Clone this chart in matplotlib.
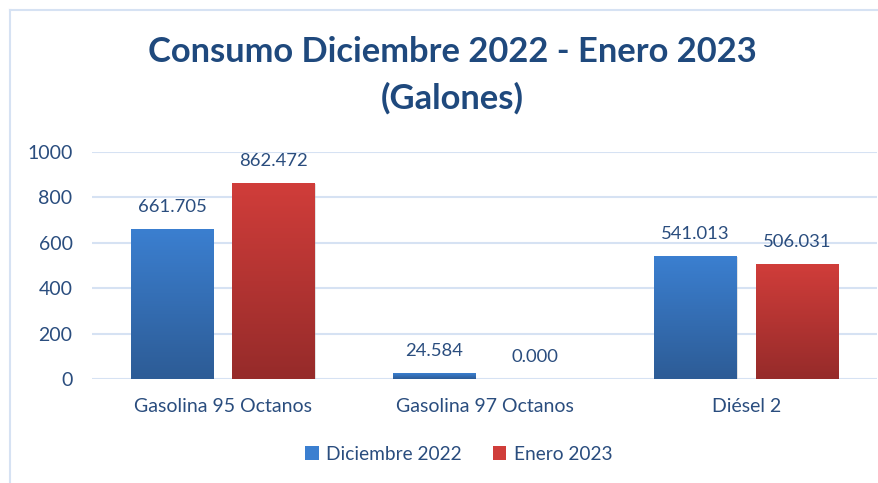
import numpy as np
import matplotlib.pyplot as plt
from matplotlib.patches import Rectangle, Patch
from matplotlib.colors import LinearSegmentedColormap

categorias = ['Gasolina 95 Octanos', 'Gasolina 97 Octanos', 'Diésel 2']
diciembre_2022 = [661.705, 24.584, 541.013]
enero_2023 = [862.472, 0.000, 506.031]
series = ['Diciembre 2022', 'Enero 2023']
yticks = [0, 200, 400, 600, 800, 1000]

plt.rcParams['font.family'] = ['Lato', 'DejaVu Sans']
navy = '#1f497d'
txt = '#2a4d7e'
azul = ('#3b7fd0', '#2d5c96')
rojo = ('#d03d3a', '#962b2a')

fig = plt.figure(figsize=(8.79, 4.83), dpi=100)
ax = fig.add_axes([92/879, 1 - 379/483, 785/879, 227/483])

# marco del grafico
fig.add_artist(plt.Line2D([10/879, 10/879], [0, 1 - 10/483], color='#d6e2f3', lw=1.5))
fig.add_artist(plt.Line2D([10/879, 1], [1 - 10/483, 1 - 10/483], color='#d6e2f3', lw=1.5))

x = np.arange(len(categorias))
w = 0.315
off = 0.194

def grad_bars(xs, vals, cols):
    cmap = LinearSegmentedColormap.from_list('g', [cols[1], cols[0]])
    bars = ax.bar(xs, vals, w, color=cols[0], zorder=3)
    for b in bars:
        x0, y0 = b.get_x(), b.get_y()
        h = b.get_height()
        if h <= 0:
            b.set_visible(False)
            continue
        # sombra
        ax.add_patch(Rectangle((x0 + 0.004, y0 - 4), w, h, color='#b0b0b0', alpha=0.35, zorder=2, lw=0))
        img = ax.imshow(np.linspace(0, 1, 100).reshape(-1, 1), cmap=cmap, origin='lower',
                        extent=[x0, x0 + w, y0, y0 + h], aspect='auto', zorder=3)
        img.set_clip_path(b)
    return bars

grad_bars(x - off, diciembre_2022, azul)
grad_bars(x + off, enero_2023, rojo)

for xs, vals in ((x - off, diciembre_2022), (x + off, enero_2023)):
    for xi, v in zip(xs, vals):
        ax.text(xi, v + 97, f'{v:.3f}', ha='center', va='center', fontsize=13.3, color=txt, zorder=5)

ax.set_xlim(-0.5, 2.5)
ax.set_ylim(0, 1000)
ax.set_yticks(yticks)
ax.set_xticks(x)
ax.set_xticklabels(categorias)
ax.tick_params(length=0, labelsize=14, labelcolor=txt)
ax.tick_params(axis='y', pad=14)
ax.tick_params(axis='x', pad=14)
for s in ax.spines.values():
    s.set_visible(False)
ax.grid(axis='y', color='#d6e2f3', lw=1.5, zorder=0)
ax.set_axisbelow(True)

fig.text(452/879, 1 - 52/483, 'Consumo Diciembre 2022 - Enero 2023', ha='center', va='center',
         fontsize=24.8, fontweight='bold', color=navy)
fig.text(452/879, 1 - 98/483, '(Galones)', ha='center', va='center',
         fontsize=24.8, fontweight='bold', color=navy)

handles = [Patch(facecolor=azul[0]), Patch(facecolor=rojo[0])]
fig.legend(handles, series, loc='center', bbox_to_anchor=(0.522, 1 - 454/483), ncol=2, frameon=False,
           fontsize=13.8, handlelength=0.7, handleheight=0.7, handletextpad=0.4, columnspacing=1.6,
           labelcolor=txt)

fig.savefig('out.png', dpi=100)
